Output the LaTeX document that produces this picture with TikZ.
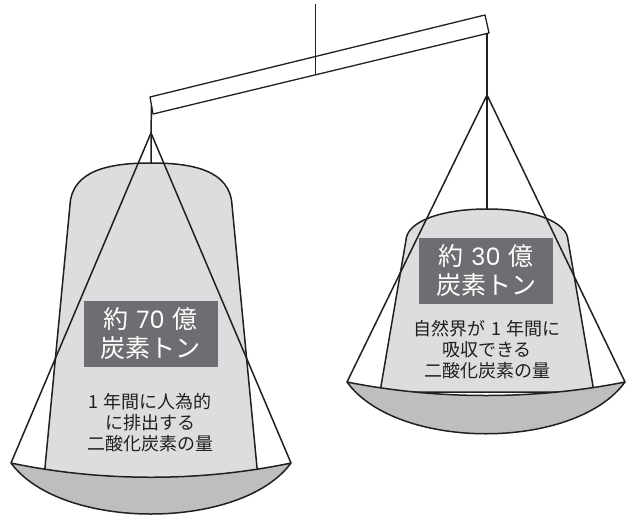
\documentclass[tikz,border=0pt]{standalone}
\usepackage{fontspec}
\newfontfamily\jp{Noto Sans CJK JP}
\newfontfamily\digits{Poppins}
\definecolor{bagfill}{HTML}{DCDDDF}
\definecolor{panfill}{HTML}{BDBEC0}
\definecolor{labelbox}{HTML}{6D6E71}
\definecolor{ink}{HTML}{231F20}
\newcommand{\amount}[1]{{\digits\fontsize{24}{29}\selectfont #1}}
\begin{document}
\begin{tikzpicture}[x=1pt,y=-1pt,
  outline/.style={draw=ink,line width=1.5pt,line join=round},
  rope/.style={draw=ink,line width=1.5pt},
  bag/.style={outline,fill=bagfill},
  pan/.style={outline,fill=panfill},
  amountbox/.style={fill=labelbox,text=white,minimum width=134pt,minimum height=66pt,
    inner sep=0pt,align=center,font={\jp\fontsize{25}{29}\selectfont}},
  caption/.style={text=ink,align=center,inner sep=0pt,font={\jp\fontsize{18}{21}\selectfont}}]
\useasboundingbox (0,0) rectangle (626,517);

% support post and tilted beam
\coordinate (postTop) at (315,4);
\coordinate (postFoot) at (315,75);
\draw[ink,line width=1pt] (postTop) -- (postFoot);
\draw[outline,line width=1.3pt] (150,97) -- (485,15) -- (489,33) -- (153,114) -- cycle;

% left hanger points
\coordinate (lEnd) at (151.5,106);
\coordinate (lHook) at (151,133);
\coordinate (lTop) at (151,163);
\coordinate (lTipL) at (11,463);
\coordinate (lTipR) at (291,463);

% right hanger points
\coordinate (rEnd) at (487,33);
\coordinate (rHook) at (487,95);
\coordinate (rTop) at (487,209);
\coordinate (rTipL) at (347,382);
\coordinate (rTipR) at (625,382);

% left bag
\path[bag] (44,478) -- (70,205) .. controls (72,170) and (110,163) .. (lTop)
  .. controls (192,163) and (230,170) .. (232,205) -- (258,478) -- cycle;
% right bag
\path[bag] (380,392) -- (406,240) .. controls (407,222) and (440,209) .. (rTop)
  .. controls (534,209) and (567,222) .. (568,240) -- (594,392) -- cycle;

% hanging ropes
\draw[rope] (lEnd) -- (lHook) -- (lTop);
\draw[rope] (lTipL) -- (lHook) -- (lTipR);
\draw[rope] (rEnd) -- (rHook) -- (rTop);
\draw[rope] (rTipL) -- (rHook) -- (rTipR);

% pans
\path[pan] (lTipL) .. controls (101,482) and (201,482) .. (lTipR)
  .. controls (241,531) and (61,531) .. (lTipL) -- cycle;
\path[pan] (rTipL) .. controls (437,400) and (535,400) .. (rTipR)
  .. controls (575,451) and (397,451) .. (rTipL) -- cycle;

% labels
\node[amountbox] (lBox) at (150.5,334) {約\hspace{0.3em}\amount{70}\hspace{0.3em}億\\炭素トン};
\node[caption] (lText) at (150,423) {1\hspace{0.3em}年間に人為的\\に排出する\\二酸化炭素の量};
\node[amountbox] (rBox) at (486,271) {約\hspace{0.3em}\amount{30}\hspace{0.3em}億\\炭素トン};
\node[caption] (rText) at (487,350) {自然界が\hspace{0.3em}1\hspace{0.3em}年間に\\吸収できる\\二酸化炭素の量};
\end{tikzpicture}
\end{document}
